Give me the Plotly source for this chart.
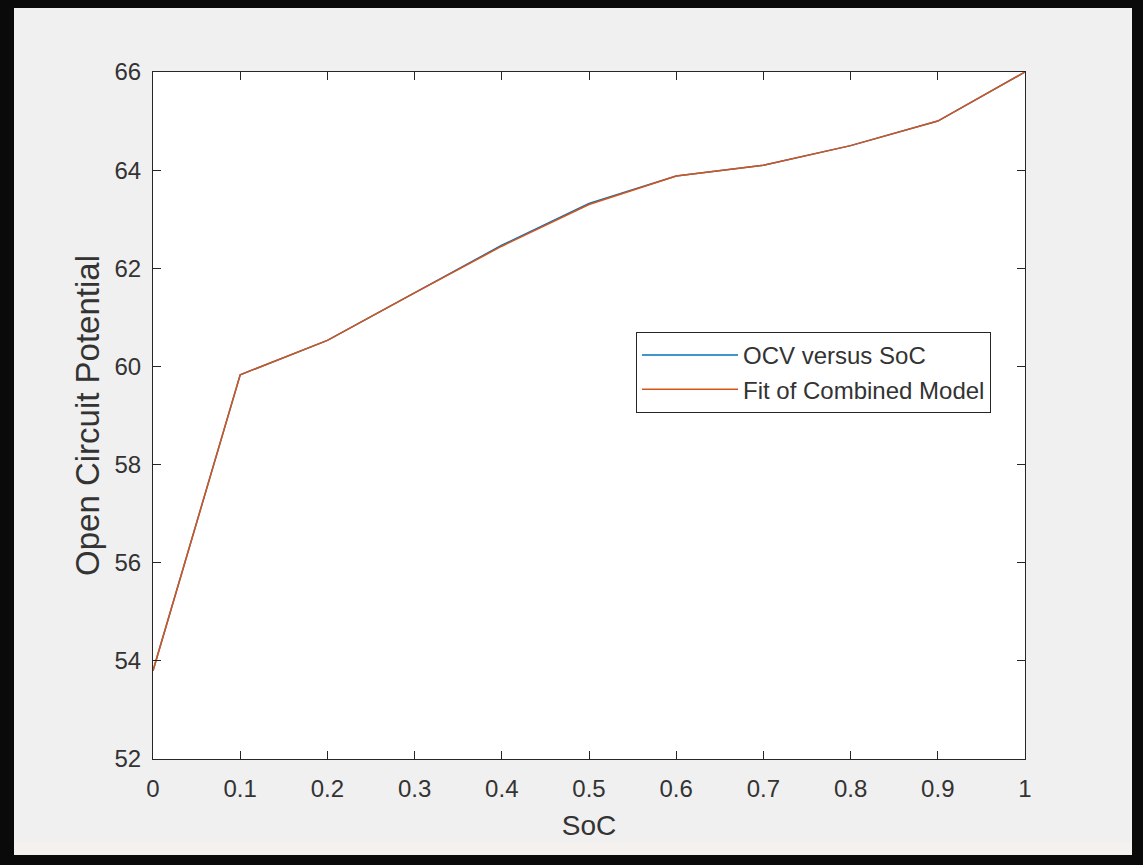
import plotly.graph_objects as go

# State of charge and open-circuit voltage samples
soc = [0.0, 0.1, 0.2, 0.3, 0.4, 0.5, 0.6, 0.7, 0.8, 0.9, 1.0]
ocv = [53.8, 59.83, 60.53, 61.5, 62.47, 63.32, 63.88, 64.1, 64.5, 65.0, 66.0]
ocv_fit = [53.8, 59.83, 60.53, 61.5, 62.45, 63.3, 63.88, 64.1, 64.5, 65.0, 66.0]

x_ticks = [0, 0.1, 0.2, 0.3, 0.4, 0.5, 0.6, 0.7, 0.8, 0.9, 1]
x_tick_text = ["0", "0.1", "0.2", "0.3", "0.4", "0.5", "0.6", "0.7", "0.8", "0.9", "1"]
y_ticks = [52, 54, 56, 58, 60, 62, 64, 66]

W, H = 1143, 865
L, R, T, B = 153, 1025, 72, 759  # plot-area edges in pixels


def px_x(p):
    return (p - L) / (R - L)


def px_y(p):
    return (B - p) / (B - T)


fig = go.Figure()
fig.add_trace(go.Scatter(x=soc, y=ocv, mode="lines", name="OCV versus SoC",
                         line=dict(color="#0072BD", width=1.5)))
fig.add_trace(go.Scatter(x=soc, y=ocv_fit, mode="lines", name="Fit of Combined Model",
                         line=dict(color="#D95319", width=1.5)))

axis_common = dict(
    showline=True, linecolor="#262626", linewidth=1, mirror="ticks",
    ticks="inside", ticklen=8, tickcolor="#262626", tickwidth=1,
    showgrid=False, zeroline=False,
    tickfont=dict(family="Liberation Sans, Arial", size=24, color="#333333"),
)

fig.update_layout(
    width=W, height=H,
    margin=dict(l=L, r=W - R, t=T, b=H - B, pad=0),
    paper_bgcolor="#f0f0f0", plot_bgcolor="white",
    font=dict(family="Liberation Sans, Arial", color="#262626"),
    xaxis=dict(range=[0, 1], tickvals=x_ticks, ticktext=x_tick_text,
               ticklabelstandoff=8,
               title=dict(text="SoC", font=dict(size=28, color="#333333"), standoff=14),
               **axis_common),
    yaxis=dict(range=[52, 66], tickvals=y_ticks, ticklabelstandoff=6,
               title=dict(text="Open Circuit Potential", font=dict(size=33, color="#333333"), standoff=4),
               **axis_common),
    legend=dict(x=px_x(636), y=px_y(332), xanchor="left", yanchor="top",
                bgcolor="white", bordercolor="#262626", borderwidth=1,
                font=dict(size=24, color="#333333"), itemwidth=96,
                tracegroupgap=0),
    showlegend=True,
)

# Dark window frame around the figure
frame = "#0a0a0a"
bands = [
    (px_x(0), px_y(H), px_x(14), px_y(0)),      # left
    (px_x(0), px_y(8), px_x(W), px_y(0)),       # top
    (px_x(1132), px_y(H), px_x(W), px_y(0)),    # right
    (px_x(0), px_y(H), px_x(W), px_y(855)),     # bottom
]
fig.add_shape(type="rect", xref="paper", yref="paper",
              x0=px_x(14), y0=px_y(855), x1=px_x(1132), y1=px_y(842),
              fillcolor="#f4f1ee", line=dict(width=0), layer="below")
for x0, y0, x1, y1 in bands:
    fig.add_shape(type="rect", xref="paper", yref="paper",
                  x0=x0, y0=y0, x1=x1, y1=y1,
                  fillcolor=frame, line=dict(width=0), layer="above")

fig.write_html("out.html")
